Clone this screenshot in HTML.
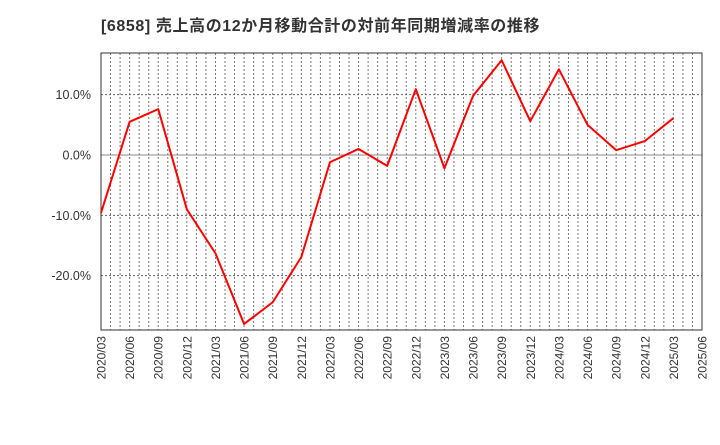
<!DOCTYPE html>
<html><head><meta charset="utf-8"><style>
body{margin:0;background:#fff;font-family:"Liberation Sans","Noto Sans CJK JP",sans-serif;}
</style></head><body>
<svg id="chart" width="720" height="440" xmlns="http://www.w3.org/2000/svg">
<text x="101" y="31" font-size="16" font-weight="bold" fill="#333" letter-spacing="0.6" font-family="Liberation Sans, Noto Sans CJK JP, sans-serif">[6858]  売上高の12か月移動合計の対前年同期増減率の推移</text>
<g id="grid"></g><g id="axes"></g><g id="series"></g>
</svg>
<script>
const categories=["2020/03","2020/06","2020/09","2020/12","2021/03","2021/06","2021/09","2021/12","2022/03","2022/06","2022/09","2022/12","2023/03","2023/06","2023/09","2023/12","2024/03","2024/06","2024/09","2024/12","2025/03","2025/06"];
const values=[-9.6,5.5,7.6,-9.0,-16.3,-28.0,-24.4,-16.9,-1.2,1.0,-1.8,10.9,-2.2,9.8,15.7,5.6,14.2,5.0,0.8,2.3,6.1];
const yTicks=[10,0,-10,-20];
const yTickLabels=["10.0%","0.0%","-10.0%","-20.0%"];
const L=101,R=702,T=53,B=330;
const yMax=16.9,yMin=-29.0;
const NS="http://www.w3.org/2000/svg";
function xs(i){return L+(R-L)*i/(categories.length-1);}
function ys(v){return T+(yMax-v)/(yMax-yMin)*(B-T);}
function mk(tag,attrs,parent){const e=document.createElementNS(NS,tag);for(const k in attrs)e.setAttribute(k,attrs[k]);parent.appendChild(e);return e;}
const grid=document.getElementById('grid'),axes=document.getElementById('axes'),series=document.getElementById('series');
const months=(categories.length-1)*3;
for(let m=1;m<months;m++){
  const x=L+(R-L)*m/months;
  const g=mk('line',{x1:x,x2:x,y1:T,y2:B,stroke:'#777','stroke-width':1,'stroke-dasharray':'2,2'},grid);
  
  
}
categories.forEach((c,i)=>{
  const x=xs(i);
  const t=mk('text',{x:0,y:0,'font-size':12,fill:'#333','text-anchor':'end',transform:`translate(${x+4.5},${B+6}) rotate(-90)`},axes);
  t.textContent=c;
  
  
});
yTicks.forEach((v,i)=>{
  const y=ys(v);
  const g=mk('line',{x1:L,x2:R,y1:y,y2:y,stroke:v===0?'#888':'#666','stroke-width':1,'stroke-dasharray':v===0?'':'2,2'},grid);
  
  
  const t=mk('text',{x:L-10,y:y+4.5,'font-size':12.5,fill:'#333','text-anchor':'end'},axes);
  t.textContent=yTickLabels[i];
  
  
});
const fr=mk('rect',{x:L,y:T,width:R-L,height:B-T,fill:'none',stroke:'#333','stroke-width':1},axes);


const pl=mk('polyline',{points:values.map((v,i)=>xs(i)+','+ys(v)).join(' '),fill:'none',stroke:'#f00','stroke-width':2,'stroke-linejoin':'round'},series);


</script>
</body></html>
